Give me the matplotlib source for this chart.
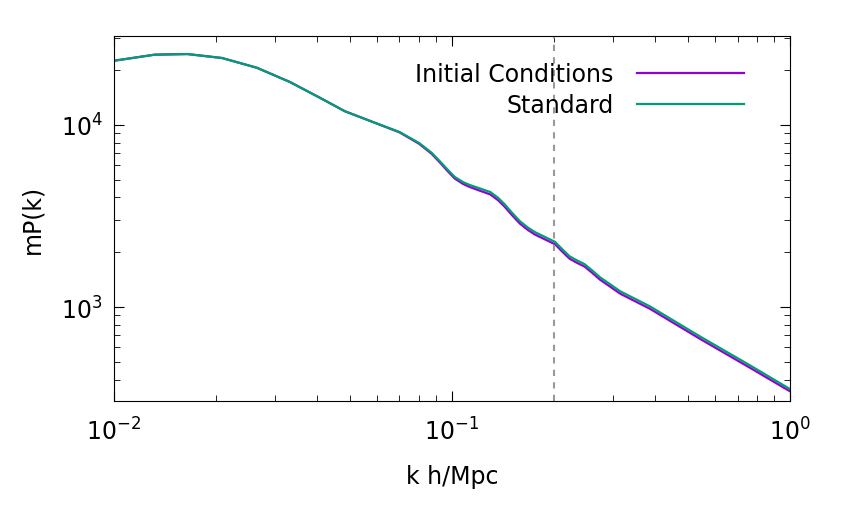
import matplotlib
matplotlib.use("Agg")
import matplotlib.pyplot as plt

k = [0.01,0.0132,0.0165,0.0209,0.0265,0.0332,0.0407,0.0482,0.059,0.070,0.080,0.087,0.092,0.097,0.102,0.108,0.113,0.121,0.130,0.137,0.143,0.151,0.159,0.168,0.176,0.189,0.202,0.212,0.223,0.235,0.247,0.260,0.274,0.293,0.315,0.385,0.542,0.76,1.0]
standard = [22500,24300,24500,23300,20600,17200,14100,11900,10300,9150,7960,7050,6340,5700,5180,4850,4680,4480,4280,3980,3680,3280,2960,2730,2580,2420,2280,2080,1900,1800,1720,1590,1460,1340,1220,1010,690,480,355]
ic_ratio = [1,1,1,1,1,1,1,1,1,0.995,0.99,0.987,0.985,0.982,0.98,0.977,0.975,0.972,0.97,0.97,0.97,0.97,0.97,0.97,0.97,0.97,0.97,0.97,0.97,0.97,0.97,0.97,0.97,0.97,0.97,0.97,0.97,0.97,0.972]
initial = [s*r for s, r in zip(standard, ic_ratio)]

fig = plt.figure(figsize=(8.43, 5.06), dpi=100)
ax = fig.add_axes([0.135, 0.2055, 0.802, 0.7215])
ax.plot(k, initial, color="#9400d3", lw=1.6, label="Initial Conditions")
ax.plot(k, standard, color="#009e73", lw=1.6, label="Standard")
ax.axvline(0.2, color="#999999", ls=(0, (3, 3)), lw=1.5)
ax.set_xscale("log"); ax.set_yscale("log")
ax.set_xlim(0.01, 1); ax.set_ylim(305, 30800)
ax.tick_params(which="both", direction="in", top=True, right=True, labelsize=17)
ax.tick_params(which="major", length=7)
ax.tick_params(which="minor", length=4)
ax.tick_params(axis="x", pad=12)
ax.tick_params(axis="y", pad=8)
ax.set_xlabel("k h/Mpc", fontsize=17, labelpad=14)
ax.set_ylabel("mP(k)", fontsize=17, labelpad=12)
leg = ax.legend(loc="upper right", frameon=False, fontsize=17, markerfirst=False,
                handlelength=4.5, borderaxespad=0.7, labelspacing=0.3, handletextpad=1.0,
                bbox_to_anchor=(0.97, 1.0))
for t in leg.get_texts():
    t.set_ha("right")
fig.savefig("out.png", dpi=100)
